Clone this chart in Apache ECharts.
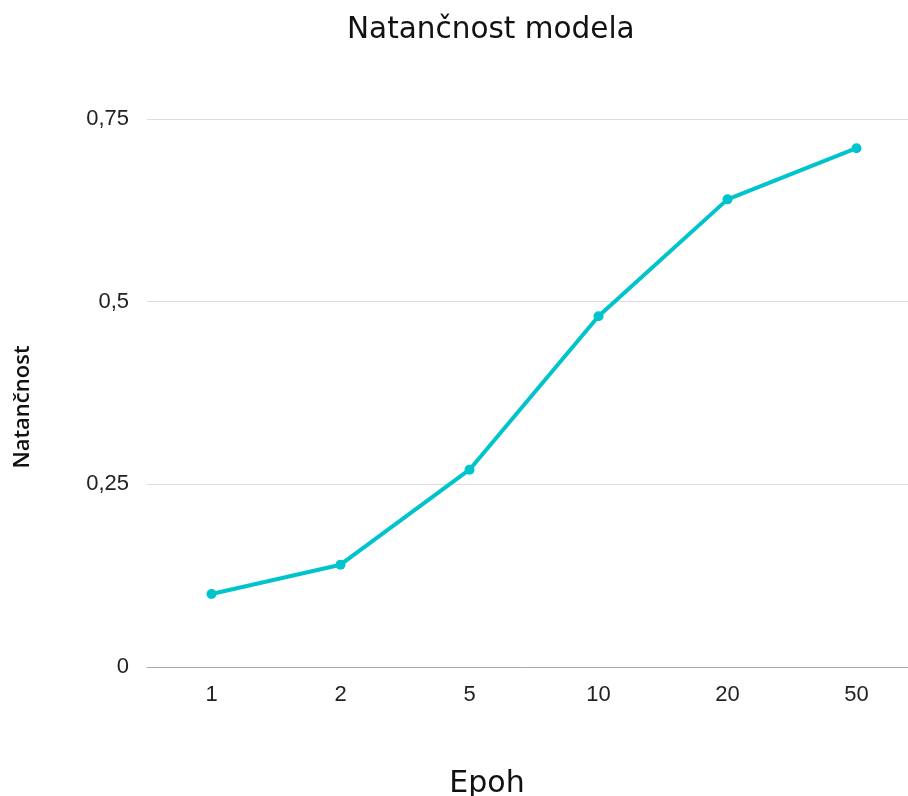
<!DOCTYPE html>
<html><head><meta charset="utf-8">
<script src="https://cdn.jsdelivr.net/npm/echarts@6/dist/echarts.min.js"></script>
<style>html,body{margin:0;padding:0;background:#fff}#c{width:908px;height:796px}</style>
</head><body><div id="c"></div>
<script>
const categories = ['1','2','5','10','20','50'];
const accuracy = [0.10, 0.14, 0.27, 0.48, 0.64, 0.71];
const yTicks = [0, 0.25, 0.5, 0.75];

const chart = echarts.init(document.getElementById('c'), null, {renderer:'canvas'});
chart.setOption({
  animation:false,
  backgroundColor:'#fff',
  title:{text:'Natančnost modela', left:342, top:10,
    textStyle:{fontFamily:'DejaVu Sans', fontSize:29.5, fontWeight:'normal', color:'#111'}},
  grid:{left:147, top:119, right:-13, bottom:129, containLabel:false, outerBoundsMode:'none'},
  xAxis:{type:'category', data:categories, boundaryGap:true,
    name:'Epoh', nameLocation:'middle', nameGap:102,
    nameTextStyle:{fontFamily:'DejaVu Sans', fontSize:30, color:'#111', padding:[0,94,0,0]},
    axisLine:{lineStyle:{color:'#aaa', width:1}},
    axisTick:{show:false},
    axisLabel:{fontFamily:'Liberation Sans', fontSize:22, color:'#222', margin:17}},
  yAxis:{type:'value', min:0, max:0.75, interval:0.25,
    name:'Natančnost', nameLocation:'middle', nameGap:113, nameRotate:90,
    nameTextStyle:{fontFamily:'Open Sans', fontSize:22, fontWeight:600, color:'#111', padding:[0,0,0,-28]},
    axisLine:{show:false}, axisTick:{show:false},
    splitLine:{lineStyle:{color:'#ddd', width:1}},
    axisLabel:{fontFamily:'Liberation Sans', fontSize:22, color:'#222', margin:18,
      formatter:v=>String(v).replace('.',',')}},
  series:[{type:'line', data:accuracy, symbol:'circle', symbolSize:10,
    lineStyle:{color:'#00C4CC', width:4}, itemStyle:{color:'#00C4CC'}}]
});
</script></body></html>
